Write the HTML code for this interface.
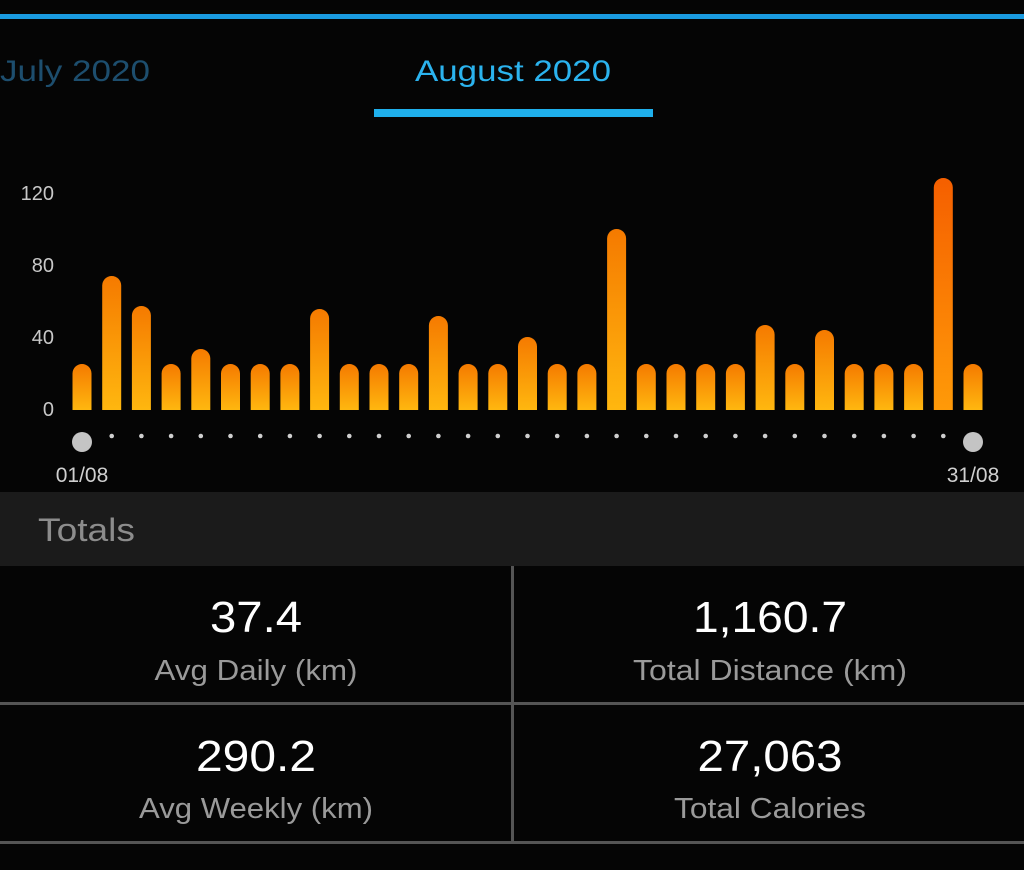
<!DOCTYPE html>
<html><head><meta charset="utf-8"><style>
html,body{margin:0;padding:0;background:#050505;}
svg{display:block}
text{font-family:"Liberation Sans",sans-serif}
</style></head><body>
<svg width="1024" height="870" viewBox="0 0 1024 870" xmlns="http://www.w3.org/2000/svg">
<defs>
<linearGradient id="g" x1="0" y1="0" x2="0" y2="1">
<stop offset="0" stop-color="#f57a00"/>
<stop offset="1" stop-color="#ffb70f"/>
</linearGradient>
<linearGradient id="g2" x1="0" y1="0" x2="0" y2="1">
<stop offset="0" stop-color="#f55f00"/>
<stop offset="1" stop-color="#ff9a08"/>
</linearGradient>
</defs>
<rect width="1024" height="870" fill="#050505"/>
<rect x="0" y="14" width="1024" height="5" fill="#1a9be0"/>
<text x="0" y="81" font-size="30" fill="#1d4e6e" textLength="150" lengthAdjust="spacingAndGlyphs">July 2020</text>
<text x="513" y="81" font-size="30" fill="#2bb3ee" text-anchor="middle" textLength="196" lengthAdjust="spacingAndGlyphs">August 2020</text>
<rect x="374" y="109" width="279" height="8" fill="#1fb0ec"/>
<g font-size="20" fill="#c8c8c8" text-anchor="end">
<text x="54" y="200">120</text>
<text x="54" y="272">80</text>
<text x="54" y="344">40</text>
<text x="54" y="416">0</text>
</g>
<g fill="url(#g)">
<path d="M72.5 410V373.5a9.5 9.5 0 0 1 19 0V410Z"/>
<path d="M102.2 410V285.5a9.5 9.5 0 0 1 19 0V410Z"/>
<path d="M131.9 410V315.5a9.5 9.5 0 0 1 19 0V410Z"/>
<path d="M161.6 410V373.5a9.5 9.5 0 0 1 19 0V410Z"/>
<path d="M191.3 410V358.5a9.5 9.5 0 0 1 19 0V410Z"/>
<path d="M221 410V373.5a9.5 9.5 0 0 1 19 0V410Z"/>
<path d="M250.7 410V373.5a9.5 9.5 0 0 1 19 0V410Z"/>
<path d="M280.4 410V373.5a9.5 9.5 0 0 1 19 0V410Z"/>
<path d="M310.1 410V318.5a9.5 9.5 0 0 1 19 0V410Z"/>
<path d="M339.8 410V373.5a9.5 9.5 0 0 1 19 0V410Z"/>
<path d="M369.5 410V373.5a9.5 9.5 0 0 1 19 0V410Z"/>
<path d="M399.2 410V373.5a9.5 9.5 0 0 1 19 0V410Z"/>
<path d="M428.9 410V325.5a9.5 9.5 0 0 1 19 0V410Z"/>
<path d="M458.6 410V373.5a9.5 9.5 0 0 1 19 0V410Z"/>
<path d="M488.3 410V373.5a9.5 9.5 0 0 1 19 0V410Z"/>
<path d="M518 410V346.5a9.5 9.5 0 0 1 19 0V410Z"/>
<path d="M547.7 410V373.5a9.5 9.5 0 0 1 19 0V410Z"/>
<path d="M577.4 410V373.5a9.5 9.5 0 0 1 19 0V410Z"/>
<path d="M607.1 410V238.5a9.5 9.5 0 0 1 19 0V410Z"/>
<path d="M636.8 410V373.5a9.5 9.5 0 0 1 19 0V410Z"/>
<path d="M666.5 410V373.5a9.5 9.5 0 0 1 19 0V410Z"/>
<path d="M696.2 410V373.5a9.5 9.5 0 0 1 19 0V410Z"/>
<path d="M725.9 410V373.5a9.5 9.5 0 0 1 19 0V410Z"/>
<path d="M755.6 410V334.5a9.5 9.5 0 0 1 19 0V410Z"/>
<path d="M785.3 410V373.5a9.5 9.5 0 0 1 19 0V410Z"/>
<path d="M815 410V339.5a9.5 9.5 0 0 1 19 0V410Z"/>
<path d="M844.7 410V373.5a9.5 9.5 0 0 1 19 0V410Z"/>
<path d="M874.4 410V373.5a9.5 9.5 0 0 1 19 0V410Z"/>
<path d="M904.1 410V373.5a9.5 9.5 0 0 1 19 0V410Z"/>
<path d="M933.8 410V187.5a9.5 9.5 0 0 1 19 0V410Z" fill="url(#g2)"/>
<path d="M963.5 410V373.5a9.5 9.5 0 0 1 19 0V410Z"/>
</g>
<g fill="#cfcfcf">
<circle cx="111.7" cy="436" r="2.3"/><circle cx="141.4" cy="436" r="2.3"/><circle cx="171.1" cy="436" r="2.3"/><circle cx="200.8" cy="436" r="2.3"/><circle cx="230.5" cy="436" r="2.3"/><circle cx="260.2" cy="436" r="2.3"/><circle cx="289.9" cy="436" r="2.3"/><circle cx="319.6" cy="436" r="2.3"/><circle cx="349.3" cy="436" r="2.3"/><circle cx="379" cy="436" r="2.3"/><circle cx="408.7" cy="436" r="2.3"/><circle cx="438.4" cy="436" r="2.3"/><circle cx="468.1" cy="436" r="2.3"/><circle cx="497.8" cy="436" r="2.3"/><circle cx="527.5" cy="436" r="2.3"/><circle cx="557.2" cy="436" r="2.3"/><circle cx="586.9" cy="436" r="2.3"/><circle cx="616.6" cy="436" r="2.3"/><circle cx="646.3" cy="436" r="2.3"/><circle cx="676" cy="436" r="2.3"/><circle cx="705.7" cy="436" r="2.3"/><circle cx="735.4" cy="436" r="2.3"/><circle cx="765.1" cy="436" r="2.3"/><circle cx="794.8" cy="436" r="2.3"/><circle cx="824.5" cy="436" r="2.3"/><circle cx="854.2" cy="436" r="2.3"/><circle cx="883.9" cy="436" r="2.3"/><circle cx="913.6" cy="436" r="2.3"/><circle cx="943.3" cy="436" r="2.3"/>
</g>
<circle cx="82" cy="442" r="10" fill="#c4c4c4"/>
<circle cx="973" cy="442" r="10" fill="#c4c4c4"/>
<text x="82" y="482" font-size="21" fill="#d0d0d0" text-anchor="middle">01/08</text>
<text x="973" y="482" font-size="21" fill="#d0d0d0" text-anchor="middle">31/08</text>
<rect x="0" y="492" width="1024" height="74" fill="#1b1b1b"/>
<text x="38" y="541" font-size="32" fill="#8c8c8c" textLength="97" lengthAdjust="spacingAndGlyphs">Totals</text>
<g fill="#555"><rect x="0" y="702" width="1024" height="3"/><rect x="0" y="841" width="1024" height="3"/><rect x="511" y="566" width="3" height="278"/></g>
<g font-size="44" fill="#ffffff" text-anchor="middle">
<text x="256" y="632" textLength="92" lengthAdjust="spacingAndGlyphs">37.4</text><text x="770" y="632" textLength="154" lengthAdjust="spacingAndGlyphs">1,160.7</text>
<text x="256" y="771" textLength="120" lengthAdjust="spacingAndGlyphs">290.2</text><text x="770" y="771" textLength="145" lengthAdjust="spacingAndGlyphs">27,063</text>
</g>
<g font-size="29" fill="#9a9a9a" text-anchor="middle">
<text x="256" y="680" textLength="203" lengthAdjust="spacingAndGlyphs">Avg Daily (km)</text><text x="770" y="680" textLength="274" lengthAdjust="spacingAndGlyphs">Total Distance (km)</text>
<text x="256" y="818" textLength="234" lengthAdjust="spacingAndGlyphs">Avg Weekly (km)</text><text x="770" y="818" textLength="192" lengthAdjust="spacingAndGlyphs">Total Calories</text>
</g>
</svg>
</body></html>
